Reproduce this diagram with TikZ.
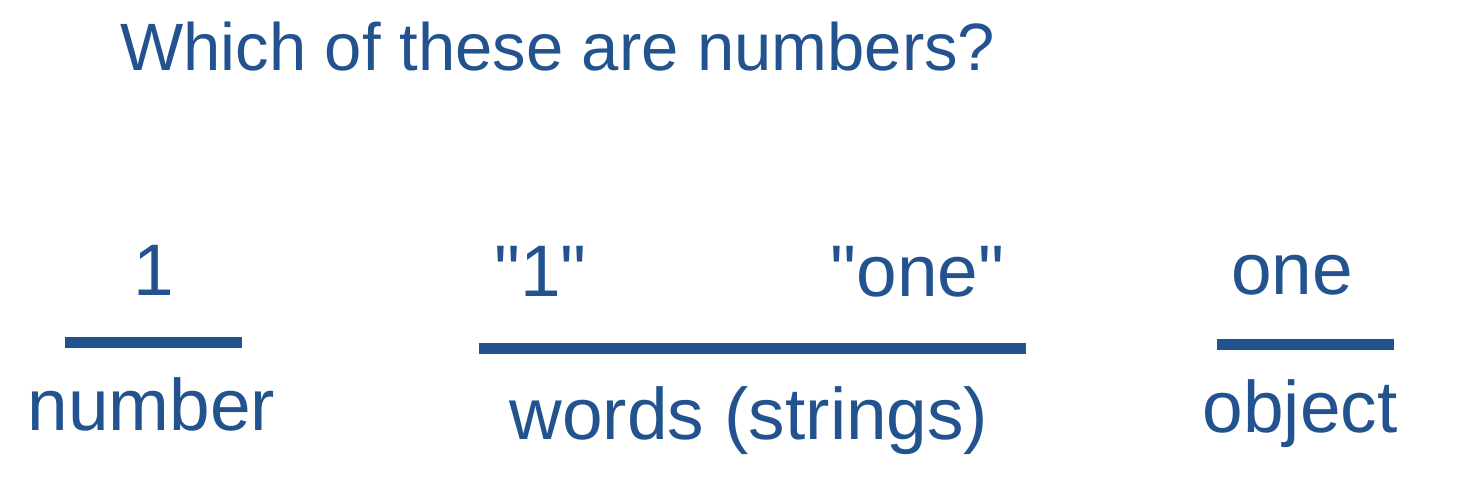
\documentclass[tikz,border=0pt]{standalone}
\usepackage{fontspec}
\newfontfamily\lib{Liberation Sans}
\definecolor{ink}{RGB}{35,83,143}
\begin{document}
\begin{tikzpicture}[x=1pt,y=-1pt,
  big/.style={inner sep=0pt, anchor=base, text=ink, font=\lib\fontsize{73}{80}\selectfont},
  bar/.style={draw=ink, line width=11pt}]
\useasboundingbox (0,0) rectangle (1463,483);
\node[inner sep=0pt, anchor=base west, text=ink, font=\lib\fontsize{67}{75}\selectfont] (title) at (120,70) {Which of these are numbers?};
% number group
\node[big] (n1) at (153.5,295) {1};
\draw[bar] (65,342.5) coordinate (l1a) -- (242,342.5) coordinate (l1b);
\node[big] (num) at (151.5,430) {number};
% string group
\node[big] (s1) at (540.5,296) {"1"};
\node[big] (s2) at (917.5,296) {"one"};
\draw[bar] (479,348) coordinate (l2a) -- (1026,348) coordinate (l2b);
\node[big] (str) at (749,439) {words (strings)};
% object group
\node[big] (o1) at (1292,294) {one};
\draw[bar] (1217,344) coordinate (l3a) -- (1394,344) coordinate (l3b);
\node[big] (obj) at (1300,432) {object};
\end{tikzpicture}
\end{document}
